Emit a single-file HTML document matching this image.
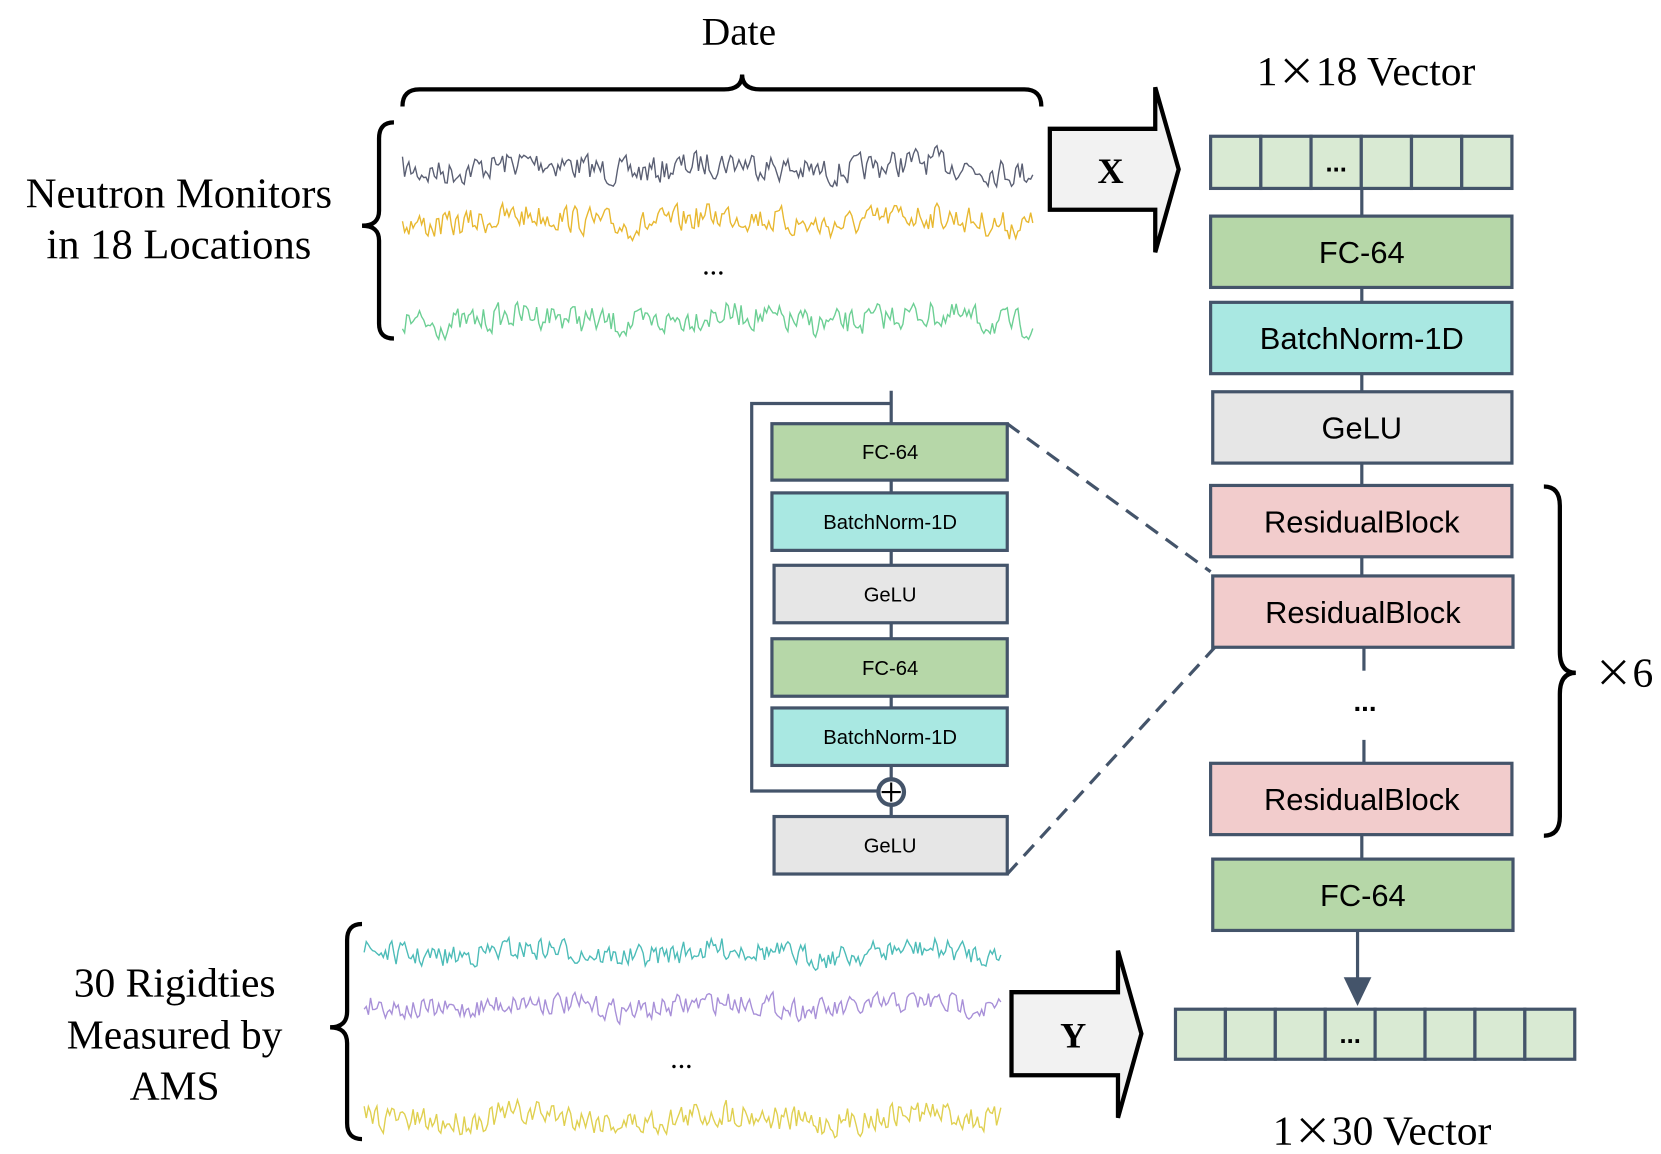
<!DOCTYPE html>
<html><head><meta charset="utf-8"><style>
html,body{margin:0;padding:0;background:#fff;}
svg{display:block;}
.serif{font-family:"Liberation Serif",serif;fill:#000;}
.sans{font-family:"Liberation Sans",sans-serif;fill:#000;}
.box{stroke:#44546a;stroke-width:3;}
.ln{stroke:#44546a;stroke-width:3;fill:none;}
</style></head><body>
<svg id="s" width="1661" height="1154" viewBox="0 0 1560 1084" preserveAspectRatio="none" xmlns="http://www.w3.org/2000/svg">
<rect width="1560" height="1084" fill="#fff"/>
<text class="serif" x="694" y="42" font-size="37" text-anchor="middle">Date</text>
<path d="M378,100 Q378,84 394,84 L680,84 Q697,84 697,70 Q697,84 714,84 L962,84 Q978,84 978,100" fill="none" stroke="#000" stroke-width="4"/>
<path d="M370,115 Q356,115 356,130 L356,198 Q356,212 340,212 Q356,212 356,226 L356,304 Q356,318 370,318" fill="none" stroke="#000" stroke-width="4"/>
<text class="serif" x="168" y="195" font-size="40" text-anchor="middle">Neutron Monitors</text>
<text class="serif" x="168" y="243" font-size="40" text-anchor="middle">in 18 Locations</text>
<g id="waves"></g>
<text class="serif" x="670" y="258" font-size="28" text-anchor="middle">...</text>
<text class="serif" x="640" y="1003" font-size="28" text-anchor="middle">...</text>
<path d="M986,121 L1085,121 L1085,82 L1107,159 L1085,237 L1085,197 L986,197 Z" fill="#f2f2f2" stroke="#000" stroke-width="4"/>
<text class="serif" x="1043" y="172" font-size="34" font-weight="bold" text-anchor="middle">X</text>
<path d="M950,932 L1050,932 L1050,893 L1072,971 L1050,1050 L1050,1010 L950,1010 Z" fill="#f2f2f2" stroke="#000" stroke-width="4"/>
<text class="serif" x="1008" y="984" font-size="34" font-weight="bold" text-anchor="middle">Y</text>
<text class="serif" x="1283" y="80" font-size="39" text-anchor="middle">1<tspan font-family="Noto Sans CJK SC, sans-serif" font-size="36">×</tspan>18 Vector</text>
<text class="serif" x="1298" y="1075" font-size="39" text-anchor="middle">1<tspan font-family="Noto Sans CJK SC, sans-serif" font-size="36">×</tspan>30 Vector</text>
<g id="vec"></g>
<line class="ln" x1="1279" y1="177" x2="1279" y2="203"/>
<line class="ln" x1="1279" y1="270" x2="1279" y2="284"/>
<line class="ln" x1="1279" y1="351" x2="1279" y2="368"/>
<line class="ln" x1="1279" y1="435" x2="1279" y2="456"/>
<line class="ln" x1="1279" y1="523" x2="1279" y2="541"/>
<line class="ln" x1="1281" y1="608" x2="1281" y2="630"/>
<line class="ln" x1="1281" y1="695" x2="1281" y2="717"/>
<line class="ln" x1="1279" y1="784" x2="1279" y2="807"/>
<line class="ln" x1="1275" y1="874" x2="1275" y2="920"/>
<polygon points="1262,918 1288,918 1275,945" fill="#44546a"/>
<rect class="box" x="1137" y="203" width="283" height="67" fill="#b6d7a8"/>
<text class="sans" x="1279" y="247" font-size="29" text-anchor="middle">FC-64</text>
<rect class="box" x="1137" y="284" width="283" height="67" fill="#a9e8e2"/>
<text class="sans" x="1279" y="328" font-size="29" text-anchor="middle">BatchNorm-1D</text>
<rect class="box" x="1139" y="368" width="281" height="67" fill="#e6e6e6"/>
<text class="sans" x="1279" y="412" font-size="29" text-anchor="middle">GeLU</text>
<rect class="box" x="1137" y="456" width="283" height="67" fill="#f2cccc"/>
<text class="sans" x="1279" y="500" font-size="29" text-anchor="middle">ResidualBlock</text>
<rect class="box" x="1139" y="541" width="282" height="67" fill="#f2cccc"/>
<text class="sans" x="1280" y="585" font-size="29" text-anchor="middle">ResidualBlock</text>
<text class="sans" x="1282" y="668" font-size="26" font-weight="bold" text-anchor="middle">...</text>
<rect class="box" x="1137" y="717" width="283" height="67" fill="#f2cccc"/>
<text class="sans" x="1279" y="761" font-size="29" text-anchor="middle">ResidualBlock</text>
<rect class="box" x="1139" y="807" width="282" height="67" fill="#b6d7a8"/>
<text class="sans" x="1280" y="851" font-size="29" text-anchor="middle">FC-64</text>
<path d="M1450,457 Q1465,457 1465,475 L1465,612 Q1465,632 1480,632 Q1465,632 1465,652 L1465,767 Q1465,785 1450,785" fill="none" stroke="#000" stroke-width="4"/>
<text class="serif" x="1525" y="645" font-size="39" text-anchor="middle"><tspan font-family="Noto Sans CJK SC, sans-serif" font-size="36">×</tspan>6</text>
<path class="ln" d="M837,367 L837,398 M837,379 L706,379 L706,743 L825,743"/>
<line class="ln" x1="837" y1="451" x2="837" y2="463"/>
<line class="ln" x1="837" y1="517" x2="837" y2="531"/>
<line class="ln" x1="837" y1="585" x2="837" y2="600"/>
<line class="ln" x1="837" y1="654" x2="837" y2="665"/>
<line class="ln" x1="837" y1="719" x2="837" y2="767"/>
<circle cx="837" cy="744" r="12" fill="#fff" stroke="#44546a" stroke-width="4"/>
<path d="M837,735 L837,753 M828,744 L846,744" stroke="#000" stroke-width="2"/>
<rect class="box" x="725" y="398" width="221" height="53" fill="#b6d7a8"/>
<text class="sans" x="836" y="431" font-size="19" text-anchor="middle">FC-64</text>
<rect class="box" x="725" y="463" width="221" height="54" fill="#a9e8e2"/>
<text class="sans" x="836" y="497" font-size="19" text-anchor="middle">BatchNorm-1D</text>
<rect class="box" x="727" y="531" width="219" height="54" fill="#e6e6e6"/>
<text class="sans" x="836" y="565" font-size="19" text-anchor="middle">GeLU</text>
<rect class="box" x="725" y="600" width="221" height="54" fill="#b6d7a8"/>
<text class="sans" x="836" y="634" font-size="19" text-anchor="middle">FC-64</text>
<rect class="box" x="725" y="665" width="221" height="54" fill="#a9e8e2"/>
<text class="sans" x="836" y="699" font-size="19" text-anchor="middle">BatchNorm-1D</text>
<rect class="box" x="727" y="767" width="219" height="54" fill="#e6e6e6"/>
<text class="sans" x="836" y="801" font-size="19" text-anchor="middle">GeLU</text>
<line x1="946" y1="398" x2="1137" y2="537" stroke="#44546a" stroke-width="3" stroke-dasharray="14,9"/>
<line x1="946" y1="821" x2="1141" y2="608" stroke="#44546a" stroke-width="3" stroke-dasharray="14,9"/>
<path d="M340,868 Q326,868 326,883 L326,950 Q326,965 310,965 Q326,965 326,980 L326,1055 Q326,1070 340,1070" fill="none" stroke="#000" stroke-width="4"/>
<text class="serif" x="164" y="936" font-size="39" text-anchor="middle">30 Rigidties</text>
<text class="serif" x="164" y="985" font-size="39" text-anchor="middle">Measured by</text>
<text class="serif" x="164" y="1033" font-size="39" text-anchor="middle">AMS</text>
</svg>
<script>
(function(){
var NS="http://www.w3.org/2000/svg";
var seed=7;function r(){seed=(seed*16807)%2147483647;return seed/2147483647;}
function wave(x0,x1,y,amp,col){
  var d="",v=0;
  for(var x=x0;x<=x1;x+=2){v=v*0.3+(r()-0.5)*amp;var yy=y+v+Math.sin(x/29)*amp*0.2;d+=(x==x0?"M":"L")+x+","+yy.toFixed(1);}
  var p=document.createElementNS(NS,"path");p.setAttribute("d",d);p.setAttribute("fill","none");
  p.setAttribute("stroke",col);p.setAttribute("stroke-width","1.3");document.getElementById("waves").appendChild(p);
}
wave(378,970,157,24,"#5a5f73");
wave(378,970,207,24,"#e8b830");
wave(378,970,300,24,"#6ccf94");
wave(342,940,895,20,"#4cbcb8");
wave(342,940,945,20,"#a890d8");
wave(342,940,1050,24,"#e0d050");
var g=document.getElementById("vec");
function vec(x,y,w,h,n,dots){
  var cw=w/n;
  for(var i=0;i<n;i++){var rc=document.createElementNS(NS,"rect");rc.setAttribute("x",x+i*cw);rc.setAttribute("y",y);
  rc.setAttribute("width",cw);rc.setAttribute("height",h);rc.setAttribute("fill","#d9ead3");rc.setAttribute("stroke","#44546a");rc.setAttribute("stroke-width","3");g.appendChild(rc);}
  var t=document.createElementNS(NS,"text");t.setAttribute("x",x+(dots+0.5)*cw);t.setAttribute("y",y+h*0.68);
  t.setAttribute("text-anchor","middle");t.setAttribute("font-size","24");t.setAttribute("font-weight","bold");
  t.setAttribute("font-family","Liberation Sans, sans-serif");t.textContent="...";g.appendChild(t);
}
vec(1137,128,283,49,6,2);
vec(1104,948,375,47,8,3);
})();
</script>
</body></html>
